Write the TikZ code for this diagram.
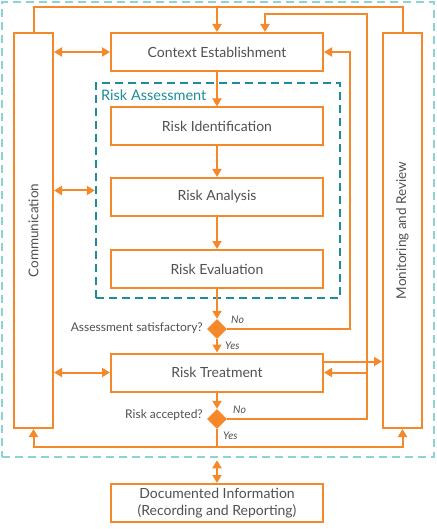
\documentclass[tikz,border=0pt]{standalone}
\usepackage{fontspec}
\setmainfont{Lato}
\usetikzlibrary{arrows.meta,shapes.geometric}
\definecolor{riskorange}{HTML}{F5892A}
\definecolor{riskteal}{HTML}{1D8C9B}
\definecolor{outerteal}{HTML}{8DD3D3}
\definecolor{textgray}{HTML}{505050}

\begin{document}
\begin{tikzpicture}[x=1pt,y=-1pt,
  stagebox/.style={draw=riskorange, line width=2pt, minimum width=212pt, minimum height=38pt,
    inner sep=0pt, text=textgray, font=\fontsize{14}{17}\selectfont, align=center},
  sidebox/.style={draw=riskorange, line width=2pt, minimum width=39pt, minimum height=395pt,
    inner sep=0pt, text=textgray, font=\fontsize{13.5}{16}\selectfont},
  decision/.style={diamond, fill=riskorange, minimum width=20pt, minimum height=20pt, inner sep=0pt},
  asklabel/.style={text=textgray, font=\fontsize{12}{14}\selectfont, anchor=east, inner sep=1pt},
  answer/.style={text=textgray, font=\fontsize{10.5}{12}\selectfont\itshape, anchor=west, inner sep=1pt},
  wire/.style={riskorange, line width=2pt},
  flow/.style={wire, -{Triangle[length=8pt,width=9pt]}},
  twoway/.style={wire, {Triangle[length=8pt,width=9pt]}-{Triangle[length=8pt,width=9pt]}}]
\useasboundingbox (0,0) rectangle (436,529);

% Outer frame
\node[draw=outerteal, line width=2.5pt, dash pattern=on 8pt off 5pt,
  minimum width=432pt, minimum height=455pt] (frame) at (218,229.5) {};

% Side columns
\node[sidebox] (comm) at (33.5,230.5) {\rotatebox{90}{Communication}};
\node[sidebox] (mon) at (402.5,230.5) {\rotatebox{90}{Monitoring and Review}};

% Main stages
\node[stagebox] (ctx) at (217,52) {Context Establishment};

% Risk assessment group
\node[draw=riskteal, line width=2.5pt, dash pattern=on 8pt off 5pt,
  minimum width=244pt, minimum height=215pt] (assess) at (218,190.5) {};
\node[text=riskteal, font=\fontsize{14.5}{17}\selectfont, anchor=west, inner sep=0pt] (assesslabel) at (101,95) {Risk Assessment};

\node[stagebox] (ident) at (217,126.5) {Risk Identification};
\node[stagebox] (analysis) at (217,197) {Risk Analysis};
\node[stagebox] (evaluation) at (217,269) {Risk Evaluation};

% Decisions and treatment
\node[decision] (dec1) at (217,329) {};
\node[asklabel] (dec1label) at (204,328) {Assessment satisfactory?};
\node[answer] (dec1no) at (230,320) {No};
\node[answer] (dec1yes) at (224,346) {Yes};

\node[stagebox] (treat) at (217,372.5) {Risk Treatment};

\node[decision] (dec2) at (217,419) {};
\node[asklabel] (dec2label) at (204,415) {Risk accepted?};
\node[answer] (dec2no) at (232,410) {No};
\node[answer] (dec2yes) at (222,436) {Yes};

% Documentation
\node[stagebox] (doc) at (217,503) {Documented Information\\(Recording and Reporting)};

% Rails
\coordinate (toprail) at (217,7);
\coordinate (norail) at (367,14);
\coordinate (redorail) at (350,52);
\coordinate (botrail) at (217,447);
\coordinate (treatout) at ([yshift=11pt]treat.east);
\coordinate (docin) at ([yshift=-2pt]frame.south);

% Main flow
\draw[flow] (ctx) -- (ident);
\draw[flow] (ident) -- (analysis);
\draw[flow] (analysis) -- (evaluation);
\draw[flow] (evaluation) -- (dec1);
\draw[flow] (dec1) -- (treat);
\draw[flow] (treat) -- (dec2);

% Loops back
\draw[wire] (comm.north) |- (toprail) -| (mon.north);
\draw[flow] (toprail) -- (ctx.north);
\draw[flow] (dec1.east) -| (redorail) -- (ctx.east);
\draw[flow] (dec2.east) -| (norail) -| ([xshift=48pt]ctx.north);
\draw[flow] (norail |- treat.east) -- (treat.east);
\draw[flow] (treatout) -- (mon.west |- treatout);

% Yes branch to side columns
\draw[flow] (dec2.south) -- (botrail) -| (comm.south);
\draw[flow] (botrail) -| (mon.south);

% Communication links
\draw[twoway] (comm.east |- ctx.west) -- (ctx.west);
\draw[twoway] (comm.east |- assess.west) -- (assess.west);
\draw[twoway] (comm.east |- treat.west) -- (treat.west);
\draw[twoway] (docin -| doc.north) -- (doc.north);
\end{tikzpicture}
\end{document}
